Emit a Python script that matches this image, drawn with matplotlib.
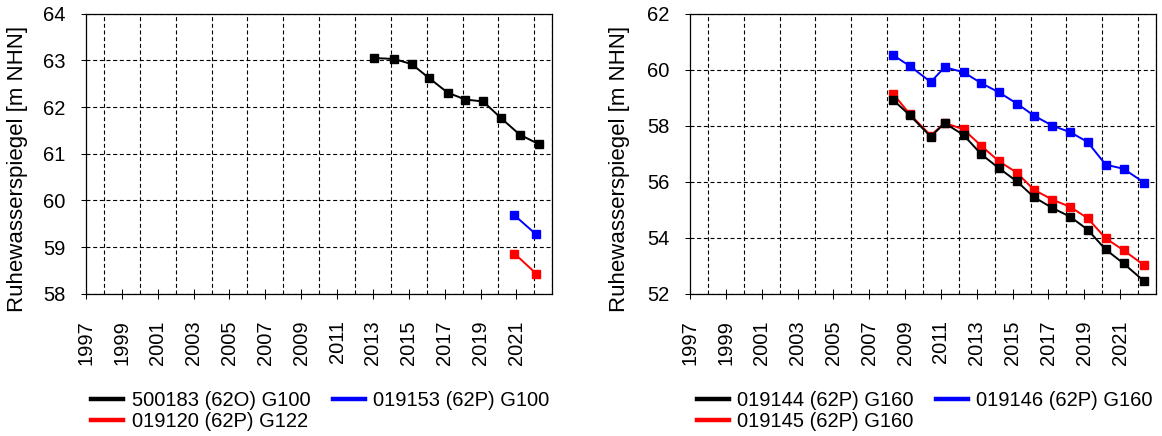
import matplotlib
matplotlib.use("Agg")
import matplotlib.pyplot as plt
from matplotlib.ticker import FixedLocator

plt.rcParams['font.family'] = ['Liberation Sans', 'DejaVu Sans']

# Left panel: measurement dates (decimal years) and water levels [m NHN]
left_black_x = [2013.06, 2014.17, 2015.16, 2016.13, 2017.16, 2018.15, 2019.14, 2020.15, 2021.18, 2022.27]
left_black_y = [63.05, 63.03, 62.92, 62.62, 62.31, 62.16, 62.12, 61.76, 61.41, 61.20]
left_blue_x = [2020.89, 2022.10]
left_blue_y = [59.68, 59.27]
left_red_x = [2020.89, 2022.10]
left_red_y = [58.86, 58.43]
left_names = ["500183 (62O) G100", "019153 (62P) G100", "019120 (62P) G122"]

# Right panel
right_x = [2008.33, 2009.27, 2010.43, 2011.21, 2012.26, 2013.25, 2014.24, 2015.24,
           2016.19, 2017.22, 2018.21, 2019.18, 2020.19, 2021.19, 2022.33]
right_black_y = [58.92, 58.37, 57.61, 58.09, 57.67, 56.98, 56.48, 56.01,
                 55.45, 55.06, 54.75, 54.29, 53.58, 53.08, 52.45]
right_blue_y = [60.52, 60.13, 59.56, 60.09, 59.91, 59.52, 59.19, 58.79,
                58.36, 58.00, 57.77, 57.42, 56.61, 56.46, 55.97]
right_red_y = [59.14, 58.41, 57.65, 58.10, 57.87, 57.28, 56.73, 56.32,
               55.71, 55.36, 55.10, 54.70, 53.98, 53.55, 53.02]
right_names = ["019144 (62P) G160", "019146 (62P) G160", "019145 (62P) G160"]

year_labels = list(range(1997, 2022, 2))
grid_years = list(range(1997, 2024))
left_yticks = [58, 59, 60, 61, 62, 63, 64]
right_yticks = [52, 54, 56, 58, 60, 62]

W, H = 1162, 436
fig = plt.figure(figsize=(W / 100, H / 100), dpi=100)

FS = 14.5
DASH = (0, (3.6, 2.4))


def style_axes(ax, yticks):
    ax.set_xlim(1997, 2023)
    ax.set_ylim(yticks[0], yticks[-1])
    ax.xaxis.set_major_locator(FixedLocator(year_labels))
    ax.set_xticklabels([str(y) for y in year_labels], rotation=90, fontsize=FS)
    ax.xaxis.set_minor_locator(FixedLocator(grid_years))
    ax.set_yticks(yticks)
    ax.set_yticklabels([str(v) for v in yticks], fontsize=FS)
    ax.tick_params(axis='x', which='major', direction='inout', length=6.5,
                   width=0.75, pad=16)
    ax.tick_params(axis='x', which='minor', length=0)
    ax.tick_params(axis='y', which='major', direction='out', length=3.6,
                   width=0.75, pad=11)
    ax.grid(axis='x', which='minor', color='black', linestyle=DASH, linewidth=0.8)
    ax.grid(axis='y', which='major', color='black', linestyle=DASH, linewidth=0.8)
    for sp in ax.spines.values():
        sp.set_linewidth(0.9)
        sp.set_color('black')
    ax.set_ylabel("Ruhewasserspiegel [m NHN]", fontsize=16, va='center')
    ax.set_axisbelow(True)


def series(ax, x, y, color, label):
    ax.plot(x, y, color=color, linewidth=1.4, marker='s', markersize=6,
            markeredgecolor=color, label=label, zorder=3)


ax1 = fig.add_axes([86 / W, (H - 293.7) / H, 466.3 / W, 280 / H])
style_axes(ax1, left_yticks)
series(ax1, left_black_x, left_black_y, 'black', left_names[0])
series(ax1, left_blue_x, left_blue_y, '#0000ff', left_names[1])
series(ax1, left_red_x, left_red_y, '#ff0000', left_names[2])
ax1.yaxis.set_label_coords((17.5 - 86) / 466.3, 0.444)

ax2 = fig.add_axes([690 / W, (H - 293.7) / H, 466 / W, 280 / H])
style_axes(ax2, right_yticks)
series(ax2, right_x, right_blue_y, '#0000ff', right_names[1])
series(ax2, right_x, right_red_y, '#ff0000', right_names[2])
series(ax2, right_x, right_black_y, 'black', right_names[0])
ax2.yaxis.set_label_coords((620 - 690) / 466, 0.444)


def legend_for(ax, names, colors, x0):
    handles = [plt.Line2D([], [], color=c, linewidth=3.2) for c in colors]
    fig.legend(handles, names, loc='upper left',
               bbox_to_anchor=(x0 / W, 1 - 391 / H), ncol=2, frameon=False,
               fontsize=FS, handlelength=1.59, handletextpad=0.42,
               columnspacing=1.1, labelspacing=0.08, borderpad=0,
               borderaxespad=0)


legend_for(ax1, [left_names[0], left_names[2], left_names[1]],
           ['black', '#ff0000', '#0000ff'], 91.3)
legend_for(ax2, [right_names[0], right_names[2], right_names[1]],
           ['black', '#ff0000', '#0000ff'], 696.7)

fig.savefig("out.png", dpi=100)
